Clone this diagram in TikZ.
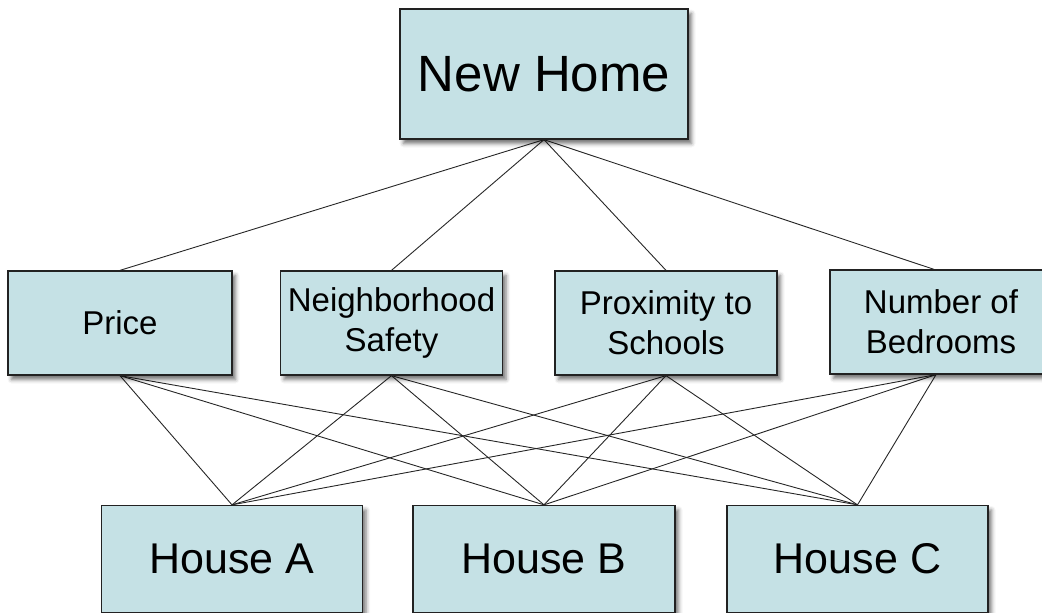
\documentclass[tikz,border=0pt]{standalone}
\usepackage{fontspec}
\setmainfont{Liberation Sans}
\usetikzlibrary{shadows.blur,backgrounds}
\definecolor{boxfill}{RGB}{197,225,229}
\definecolor{boxline}{RGB}{34,34,34}
\begin{document}
\begin{tikzpicture}[x=1pt,y=-1pt,
  box/.style={draw=boxline, line width=1.3pt, fill=boxfill, align=center, inner sep=0pt,
    blur shadow={shadow xshift=3.5pt, shadow yshift=-4.5pt, shadow blur radius=4pt, shadow opacity=55}},
  goal/.style={box, minimum width=288pt, minimum height=130pt, font=\fontsize{51}{58}\selectfont},
  crit/.style={box, minimum width=222pt, minimum height=104pt, font=\fontsize{33}{40}\selectfont},
  alt/.style={box, minimum width=261pt, minimum height=107pt, font=\fontsize{43}{50}\selectfont},
  link/.style={line width=0.9pt, draw=black!85}]
\useasboundingbox (0,0) rectangle (1042,613);
\clip (0,0) rectangle (1042,613);

% goal
\node[goal] (home) at (544,74) {New Home};

% criteria
\node[crit, minimum width=224pt] (price) at (120,323) {Price};
\node[crit] (safety) at (391.5,323) {Neighborhood\\Safety};
\node[crit] (schools) at (666,323) {Proximity to\\Schools};
\node[crit, minimum width=236pt] (beds) at (948,322) {\hspace*{-14pt}Number of\\\hspace*{-14pt}Bedrooms};

% alternatives
\node[alt] (ha) at (232,559) {House A};
\node[alt, minimum width=262pt] (hb) at (544,559) {House B};
\node[alt] (hc) at (857.5,559) {House C};

% connectors behind the boxes
\begin{pgfonlayer}{background}
  \foreach \c in {price,safety,schools} {
    \draw[link] (home.south) -- (\c.north);
    \foreach \h in {ha,hb,hc} {
      \draw[link] (\c.south) -- (\h.north);
    }
  }
  \draw[link] (home.south) -- ([xshift=-14pt]beds.north);
  \foreach \h in {ha,hb,hc} {
    \draw[link] ([xshift=-12pt]beds.south) -- (\h.north);
  }
\end{pgfonlayer}
\end{tikzpicture}
\end{document}
